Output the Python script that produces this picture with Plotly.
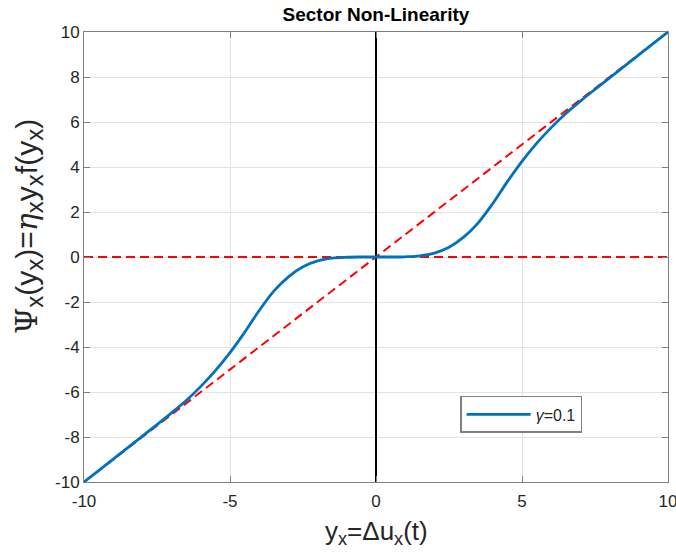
import plotly.graph_objects as go

# Blue curve (gamma = 0.1)
x_curve = [-10, -9.5, -9, -8.5, -8, -7.5, -7, -6.5, -6, -5.5, -5, -4.5, -4, -3.5, -3, -2.5, -2, -1.5, -1, -0.5, 0,
           0.5, 1, 1.5, 2, 2.5, 3, 3.5, 4, 4.5, 5, 5.5, 6, 6.5, 7, 7.5, 8, 8.5, 9, 9.5, 10]
y_curve = [-10, -9.49, -8.98, -8.47, -7.96, -7.45, -6.93, -6.38, -5.75, -5.05, -4.25, -3.35, -2.38, -1.52, -0.88,
           -0.43, -0.17, -0.05, -0.01, 0, 0,
           0, 0.01, 0.05, 0.17, 0.43, 0.88, 1.52, 2.38, 3.35, 4.25, 5.05, 5.75, 6.38, 6.93, 7.45, 7.96, 8.47, 8.98,
           9.49, 10]

# Sector bounds (red dashed)
x_bound = [-10, 10]
y_upper = [-10, 10]
y_lower = [0, 0]

# Vertical line at 0
x_vert = [0, 0]
y_vert = [-10, 10]

x_ticks = [-10, -5, 0, 5, 10]
x_tick_text = ["-10", "-5", "0", "5", "10"]
y_ticks = [-10, -8, -6, -4, -2, 0, 2, 4, 6, 8, 10]
y_tick_text = ["-10", "-8", "-6", "-4", "-2", "0", "2", "4", "6", "8", "10"]

FONT = "Liberation Sans, Arial, sans-serif"

fig = go.Figure()
fig.add_trace(go.Scatter(x=x_vert, y=y_vert, mode="lines",
                         line=dict(color="black", width=2), showlegend=False))
fig.add_trace(go.Scatter(x=x_bound, y=y_lower, mode="lines",
                         line=dict(color="#ff0000", width=2, dash="9px,5px"), showlegend=False))
fig.add_trace(go.Scatter(x=x_bound, y=y_upper, mode="lines",
                         line=dict(color="#ff0000", width=2, dash="9px,5px"), showlegend=False))
fig.add_trace(go.Scatter(x=x_curve, y=y_curve, mode="lines", name="<i>γ</i>=0.1",
                         line=dict(color="#0072BD", width=2.8, shape="spline", smoothing=1.0)))

axis_common = dict(showline=True, linecolor="#808080", linewidth=1, mirror="ticks",
                   ticks="inside", ticklen=6, tickcolor="#808080",
                   showgrid=True, gridcolor="#e4e4e4", gridwidth=1, zeroline=False,
                   ticklabeloverflow="allow",
                   tickfont=dict(family=FONT, size=17, color="#262626"))

SUB = "<sub><span style='font-size:24px'>x</span></sub>"
ylabel = ("<span style='font-family:DejaVu Serif'>Ψ</span>" + SUB + "(y" + SUB + ")="
          "<span style='font-family:DejaVu Serif'><i>η</i></span>" + SUB + "y" + SUB + "f(y" + SUB + ")")

fig.update_layout(
    width=676, height=552,
    paper_bgcolor="white", plot_bgcolor="white",
    margin=dict(l=84, r=8, t=32, b=70, autoexpand=False),
    title=dict(text="<b>Sector Non-Linearity</b>", x=376 / 676, xanchor="center",
               y=1 - 14 / 552, yanchor="middle",
               font=dict(family=FONT, size=19, color="black")),
    xaxis=dict(range=[-10, 10], tickvals=x_ticks, ticktext=x_tick_text,
               ticklabelstandoff=4, **axis_common),
    yaxis=dict(range=[-10, 10], tickvals=y_ticks, ticktext=y_tick_text, **axis_common),
    legend=dict(x=0.853, y=0.109, xanchor="right", yanchor="bottom", itemwidth=64,
                bgcolor="white", bordercolor="#808080", borderwidth=1.5,
                font=dict(family=FONT, size=16, color="#262626")),
    annotations=[
        dict(text="y<sub>x</sub>=Δu<sub>x</sub>(t)", xref="paper", yref="paper",
             x=0.5, y=-0.113, xanchor="center", yanchor="middle", showarrow=False,
             font=dict(family=FONT, size=26, color="#262626")),
        dict(text=ylabel,
             xref="paper", yref="paper", x=(28 - 84) / 584, y=(482 - 227) / 450,
             xanchor="center", yanchor="middle", textangle=-90, showarrow=False,
             font=dict(family=FONT, size=30, color="#262626")),
    ],
)

fig.write_html("out.html", post_script="document.body.style.margin='0';",
               config={"displayModeBar": False})
